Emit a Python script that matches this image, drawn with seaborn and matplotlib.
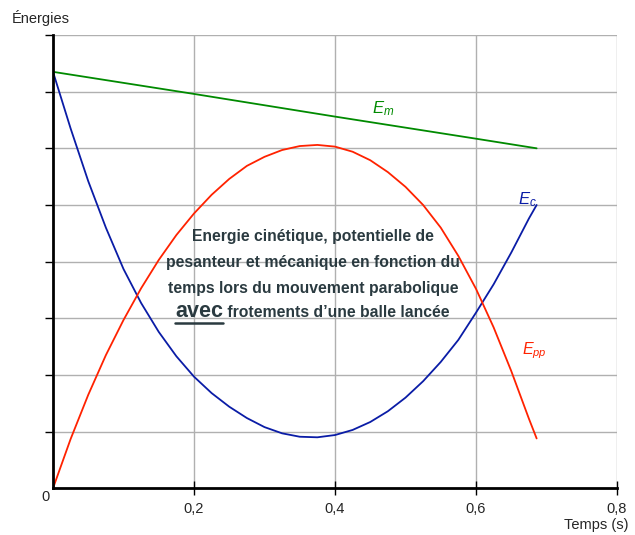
import matplotlib
matplotlib.use("Agg")
import matplotlib.pyplot as plt
import seaborn as sns

# valeurs (toutes les 0,025 s)
temps = [0.0, 0.025, 0.05, 0.075, 0.1, 0.125, 0.15, 0.175, 0.2, 0.225, 0.25, 0.275, 0.3,
         0.325, 0.35, 0.375, 0.4, 0.425, 0.45, 0.475, 0.5, 0.525, 0.55, 0.575, 0.6,
         0.625, 0.65, 0.675, 0.686]

energie_c = [7.35, 6.35, 5.42, 4.60, 3.87, 3.27, 2.76, 2.33, 1.97, 1.68, 1.44, 1.24, 1.08,
             0.97, 0.91, 0.90, 0.94, 1.03, 1.17, 1.36, 1.60, 1.89, 2.23, 2.62, 3.10,
             3.60, 4.16, 4.76, 5.00]

energie_pp = [0.0, 0.87, 1.65, 2.35, 2.97, 3.53, 4.03, 4.47, 4.85, 5.18, 5.46, 5.69, 5.85,
              5.97, 6.04, 6.06, 6.03, 5.94, 5.79, 5.58, 5.32, 5.00, 4.60, 4.10, 3.52,
              2.84, 2.07, 1.23, 0.88]

temps_em = [0.0, 0.2, 0.4, 0.6, 0.686]
energie_m = [7.35, 6.96, 6.56, 6.17, 6.0]

x_ticks = [0.2, 0.4, 0.6, 0.8]
x_labels = ['0,2', '0,4', '0,6', '0,8']
y_ticks = [1, 2, 3, 4, 5, 6, 7, 8]

titre = ["Energie cinétique, potentielle de",
         "pesanteur et mécanique en fonction du",
         "temps lors du mouvement parabolique"]
titre_fin = " frotements d\u2019une balle lancée"

sns.set_style('white')
plt.rcParams['font.family'] = ['Liberation Sans', 'DejaVu Sans']
plt.rcParams['mathtext.fontset'] = 'custom'
plt.rcParams['mathtext.it'] = 'Liberation Sans:italic'
plt.rcParams['mathtext.rm'] = 'Liberation Sans'

fig = plt.figure(figsize=(6.35, 5.35), dpi=100)
ax = fig.add_axes([53 / 635, 1 - 488.3 / 535, 564 / 635, (488.3 - 35) / 535])

vert, bleu, rouge = '#008a00', '#0a1ca6', '#ff2200'
sns.lineplot(x=temps_em, y=energie_m, ax=ax, color=vert, linewidth=1.3, sort=False, estimator=None)
sns.lineplot(x=temps, y=energie_c, ax=ax, color=bleu, linewidth=1.3, sort=False, estimator=None)
sns.lineplot(x=temps, y=energie_pp, ax=ax, color=rouge, linewidth=1.3, sort=False, estimator=None)

ax.set_xlim(0, 0.8)
ax.set_ylim(0, 8)
ax.set_xticks(x_ticks)
ax.set_xticklabels(x_labels, fontsize=10.5)
ax.set_yticks(y_ticks)
ax.set_yticklabels([])
ax.grid(True, color='#b0b0b0', linewidth=1)
ax.set_axisbelow(True)
ax.tick_params(axis='y', direction='out', length=6, width=1, color='black', left=True)
ax.tick_params(axis='x', direction='inout', length=10, width=1, color='black', bottom=True, pad=5)
for s in ['top', 'right']:
    ax.spines[s].set_visible(False)
for s in ['left', 'bottom']:
    ax.spines[s].set_color('black')
    ax.spines[s].set_linewidth(2)
ax.set_xlabel('')
ax.set_ylabel('')

fig.text(12 / 635, 1 - 18 / 535, 'Énergies', fontsize=10.5, va='center', ha='left')
fig.text(596 / 635, 1 - 525 / 535, 'Temps (s)', fontsize=10.5, va='center', ha='center')
fig.text(45 / 635, 1 - 497 / 535, '0', fontsize=10.5, va='center', ha='center')

ax.text(0.452, 6.7, r'$E_{m}$', color=vert, fontsize=12, ha='left', va='center')
ax.text(0.659, 5.09, r'$E_{c}$', color=bleu, fontsize=12, ha='left', va='center')
ax.text(0.665, 2.42, r'$E_{pp}$', color=rouge, fontsize=11.5, ha='left', va='center')

couleur_txt = '#2a3a40'
lignes_y = [236, 262, 288]
for ligne, py in zip(titre, lignes_y):
    fig.text(313 / 635, 1 - py / 535, ligne, fontsize=11.3, fontweight='bold',
             color=couleur_txt, ha='center', va='center')

# derniere ligne : "avec" plus grand et souligne, meme ligne de base
base = 1 - 317 / 535
t_avec = fig.text(175 / 635, base, 'avec', fontsize=15.5, fontweight='bold',
                  color=couleur_txt, ha='left', va='baseline')
fig.canvas.draw()
r = fig.canvas.get_renderer()
bb = t_avec.get_window_extent(r)
fig.text(bb.x1 / 635, base, titre_fin, fontsize=11.3, fontweight='bold',
         color=couleur_txt, ha='left', va='baseline')
fig.add_artist(plt.Line2D([bb.x0 / 635, bb.x1 / 635], [1 - 323 / 535, 1 - 323 / 535],
                          color=couleur_txt, linewidth=1.8))

fig.savefig('out.png', dpi=100)
